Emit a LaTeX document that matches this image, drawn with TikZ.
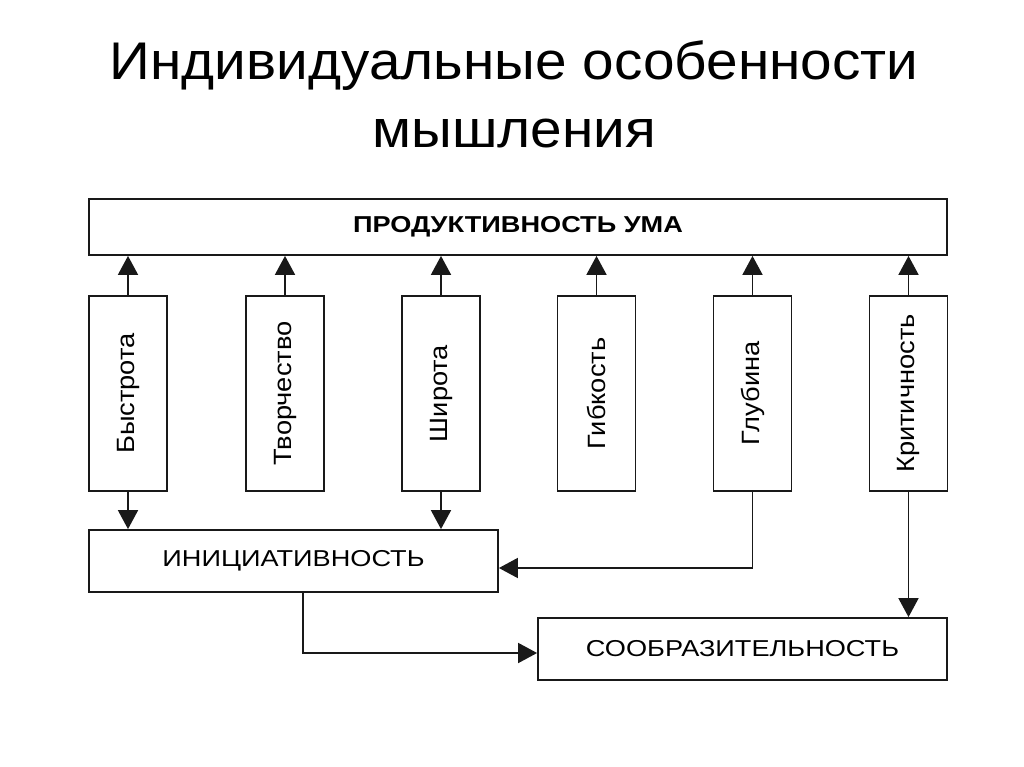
\documentclass[tikz,border=0pt]{standalone}
\usepackage{fontspec}
\setmainfont{Liberation Sans}
\newfontfamily\ttlfont[FakeStretch=1.07]{Liberation Sans}
\newfontfamily\hfont[FakeStretch=1.18]{Liberation Sans}
\newfontfamily\vfont[FakeStretch=1.09]{Liberation Sans}
\usetikzlibrary{arrows.meta}
\tikzset{
  box/.style={draw=black!90, line width=1.8pt, inner sep=0pt, fill=white},
  vbox/.style={box, minimum width=78pt, minimum height=195pt},
  hbox/.style={box, minimum width=409pt, minimum height=62pt, font=\hfont\fontsize{23}{26}\selectfont},
  vlab/.style={rotate=90, font=\vfont\fontsize{25}{28}\selectfont},
  arr/.style={line width=1.8pt, draw=black!90, -{Triangle[width=20pt,length=19pt]}},
  ttl/.style={anchor=base, font=\ttlfont\fontsize{53}{60}\selectfont}
}
\begin{document}
\begin{tikzpicture}[x=1pt,y=-1pt]
\useasboundingbox (0,0) rectangle (1024,767);
\node[ttl] (t1) at (514,80) {Индивидуальные особенности};
\node[ttl] (t2) at (514,148) {мышления};
\node[box, minimum width=858pt, minimum height=56pt, font=\hfont\bfseries\fontsize{23}{26}\selectfont] (top) at (518,227) {ПРОДУКТИВНОСТЬ УМА};
\node[vbox, label={[vlab]center:Быстрота}] (b1) at (128,393.5) {};
\node[vbox, label={[vlab]center:Творчество}] (b2) at (285,393.5) {};
\node[vbox, label={[vlab]center:Широта}] (b3) at (441,393.5) {};
\node[vbox, label={[vlab]center:Гибкость}] (b4) at (596.5,393.5) {};
\node[vbox, label={[vlab]center:Глубина}] (b5) at (752.5,393.5) {};
\node[vbox, label={[vlab]center:Критичность}] (b6) at (908.5,393.5) {};
\node[hbox] (inic) at (293.5,561) {ИНИЦИАТИВНОСТЬ};
\node[hbox] (soob) at (742.5,649) {СООБРАЗИТЕЛЬНОСТЬ};
\foreach \b in {b1,b2,b3,b4,b5,b6}
  \draw[arr] (\b.north) -- (\b.north |- top.south);
\draw[arr] (b1.south) -- (b1.south |- inic.north);
\draw[arr] (b3.south) -- (b3.south |- inic.north);
\draw[arr] (b5.south) |- ([yshift=-7pt]inic.east);
\draw[arr] (b6.south) -- (b6.south |- soob.north);
\draw[arr] ([xshift=9.5pt]inic.south) |- ([yshift=-4pt]soob.west);
\end{tikzpicture}
\end{document}
